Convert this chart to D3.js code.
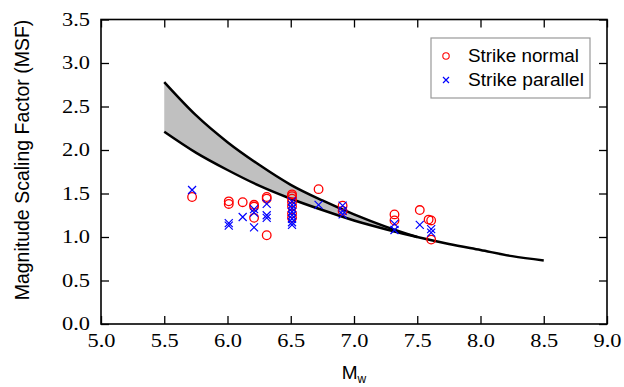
<!DOCTYPE html>
<html>
<head>
<meta charset="utf-8">
<script src="https://cdn.jsdelivr.net/npm/d3@7"></script>
<style>
  body { margin: 0; background: #fff; }
  svg { display: block; }
</style>
</head>
<body>
<div id="chart"></div>
<script>
// MSF curves
const curveMw = [5.5, 5.75, 6.0, 6.25, 6.5, 6.75, 7.0, 7.25, 7.5, 7.75, 8.0, 8.25, 8.5]
const lowerMsf = [2.21, 1.97, 1.77, 1.59, 1.44, 1.31, 1.19, 1.09, 1.0, 0.92, 0.85, 0.78, 0.73]
const upperMw = [5.5, 5.75, 6.0, 6.25, 6.5, 6.75, 7.0, 7.25, 7.5]
const upperMsf = [2.78, 2.4, 2.09, 1.83, 1.6, 1.42, 1.26, 1.12, 1.0]

// strike normal points (circles)
const normalMw = [5.72, 6.01, 6.01, 6.12, 6.21, 6.21, 6.21, 6.31, 6.31, 6.31,
  6.51, 6.51, 6.51, 6.51, 6.51, 6.51, 6.51, 6.72, 6.91, 6.91, 7.32, 7.32, 7.52, 7.59, 7.61, 7.61]
const normalMsf = [1.46, 1.41, 1.38, 1.40, 1.37, 1.35, 1.22, 1.46, 1.44, 1.02,
  1.49, 1.47, 1.44, 1.40, 1.35, 1.27, 1.22, 1.55, 1.36, 1.30, 1.26, 1.19, 1.31, 1.20, 1.19, 0.97]

// strike parallel points (crosses)
const parallelMw = [5.72, 6.01, 6.01, 6.12, 6.21, 6.21, 6.21, 6.31, 6.31, 6.31,
  6.51, 6.51, 6.51, 6.51, 6.51, 6.51, 6.51, 6.51, 6.72, 6.91, 6.91, 6.91, 7.32, 7.32, 7.52, 7.61, 7.61]
const parallelMsf = [1.54, 1.16, 1.13, 1.23, 1.32, 1.28, 1.11, 1.38, 1.25, 1.22,
  1.41, 1.37, 1.33, 1.29, 1.25, 1.21, 1.17, 1.14, 1.37, 1.36, 1.30, 1.26, 1.15, 1.08, 1.14, 1.09, 1.05]

const xTicks = [5.0, 5.5, 6.0, 6.5, 7.0, 7.5, 8.0, 8.5, 9.0]
const yTicks = [0.0, 0.5, 1.0, 1.5, 2.0, 2.5, 3.0, 3.5]
const legendLabels = ['Strike normal', 'Strike parallel']

let margin = { top: 19.5, left: 101, right: 17, bottom: 63 }
let width = 624 - margin.left - margin.right
let height = 387 - margin.top - margin.bottom

let svg = d3
  .select('#chart')
  .append('svg')
  .attr('width', 624)
  .attr('height', 387)

let g = svg.append('g').attr('transform', `translate(${margin.left}, ${margin.top})`)

let x = d3.scaleLinear().domain([5, 9]).range([0, width])
let y = d3.scaleLinear().domain([0, 3.5]).range([height, 0])

// shaded band between the two curves
let band = upperMw.map((m, i) => ({ m: m, hi: upperMsf[i], lo: lowerMsf[i] }))
g.append('path')
  .datum(band)
  .attr('d', d3.area().x(d => x(d.m)).y0(d => y(d.lo)).y1(d => y(d.hi)).curve(d3.curveMonotoneX))
  .attr('fill', '#c0c0c0')

let line = d3.line().x(d => x(d[0])).y(d => y(d[1])).curve(d3.curveMonotoneX)

g.append('path')
  .datum(curveMw.map((m, i) => [m, lowerMsf[i]]))
  .attr('d', line)
  .attr('fill', 'none')
  .attr('stroke', '#000')
  .attr('stroke-width', 2.5)

g.append('path')
  .datum(upperMw.map((m, i) => [m, upperMsf[i]]))
  .attr('d', line)
  .attr('fill', 'none')
  .attr('stroke', '#000')
  .attr('stroke-width', 2.5)

// axes, ticks pointing inwards on all four sides
function styleAxis(sel) {
  sel.select('.domain').remove()
  sel.selectAll('.tick line').attr('stroke', '#000').attr('stroke-width', 1.3)
  sel.selectAll('.tick text')
    .attr('font-family', '"Liberation Serif", "Times New Roman", serif')
    .attr('font-size', 18)
    .attr('fill', '#000')
    .attr('textLength', 28)
    .attr('lengthAdjust', 'spacingAndGlyphs')
}

g.append('g')
  .attr('transform', `translate(0, ${height})`)
  .call(d3.axisBottom(x).tickValues(xTicks).tickSize(-8).tickPadding(10).tickFormat(d3.format('.1f')))
  .call(styleAxis)

g.append('g')
  .call(d3.axisLeft(y).tickValues(yTicks).tickSize(-8).tickPadding(11).tickFormat(d3.format('.1f')))
  .call(styleAxis)

g.append('g')
  .call(d3.axisTop(x).tickValues(xTicks).tickSize(-8).tickFormat(''))
  .call(styleAxis)

g.append('g')
  .attr('transform', `translate(${width}, 0)`)
  .call(d3.axisRight(y).tickValues(yTicks).tickSize(-8).tickFormat(''))
  .call(styleAxis)

g.append('rect')
  .attr('width', width)
  .attr('height', height)
  .attr('fill', 'none')
  .attr('stroke', '#000')
  .attr('stroke-width', 1.6)

// points
function cross(sel, s) {
  sel.attr('d', `M${-s},${-s}L${s},${s}M${-s},${s}L${s},${-s}`)
    .attr('fill', 'none')
    .attr('stroke', '#0000ff')
    .attr('stroke-width', 1.2)
}

g.selectAll('.normal')
  .data(normalMw.map((m, i) => [m, normalMsf[i]]))
  .enter()
  .append('circle')
  .attr('class', 'normal')
  .attr('cx', d => x(d[0]))
  .attr('cy', d => y(d[1]))
  .attr('r', 4.3)
  .attr('fill', 'none')
  .attr('stroke', '#ff0000')
  .attr('stroke-width', 1.3)

g.selectAll('.parallel')
  .data(parallelMw.map((m, i) => [m, parallelMsf[i]]))
  .enter()
  .append('path')
  .attr('class', 'parallel')
  .attr('transform', d => `translate(${x(d[0])}, ${y(d[1])})`)
  .call(cross, 4)

// legend
let legend = svg.append('g').attr('transform', 'translate(431, 38)')
legend.append('rect')
  .attr('width', 159)
  .attr('height', 60)
  .attr('fill', '#fff')
  .attr('stroke', '#999')
  .attr('stroke-width', 1.2)

legend.append('circle')
  .attr('cx', 15).attr('cy', 18).attr('r', 3.2)
  .attr('fill', 'none').attr('stroke', '#ff0000').attr('stroke-width', 1.1)
legend.append('path')
  .attr('transform', 'translate(15, 42)')
  .call(cross, 3)

legend.selectAll('.legend-text')
  .data(legendLabels)
  .enter()
  .append('text')
  .attr('class', 'legend-text')
  .attr('x', 37)
  .attr('y', (d, i) => 24 + i * 23.5)
  .attr('font-family', '"Liberation Sans", Arial, sans-serif')
  .attr('font-size', 17.5)
  .attr('textLength', (d, i) => i === 0 ? 111 : 116)
  .attr('lengthAdjust', 'spacingAndGlyphs')
  .text(d => d)

// axis titles
let xTitle = svg.append('text')
  .attr('x', 354)
  .attr('y', 379)
  .attr('text-anchor', 'middle')
  .attr('font-family', '"Liberation Sans", Arial, sans-serif')
  .attr('font-size', 19)
xTitle.append('tspan').text('M')
xTitle.append('tspan').attr('font-size', 12).attr('dy', 3.5).text('w')

svg.append('text')
  .attr('transform', 'translate(29, 160) rotate(-90)')
  .attr('text-anchor', 'middle')
  .attr('font-family', '"Liberation Sans", Arial, sans-serif')
  .attr('font-size', 19.5)
  .text('Magnitude Scaling Factor (MSF)')
</script>
</body>
</html>
